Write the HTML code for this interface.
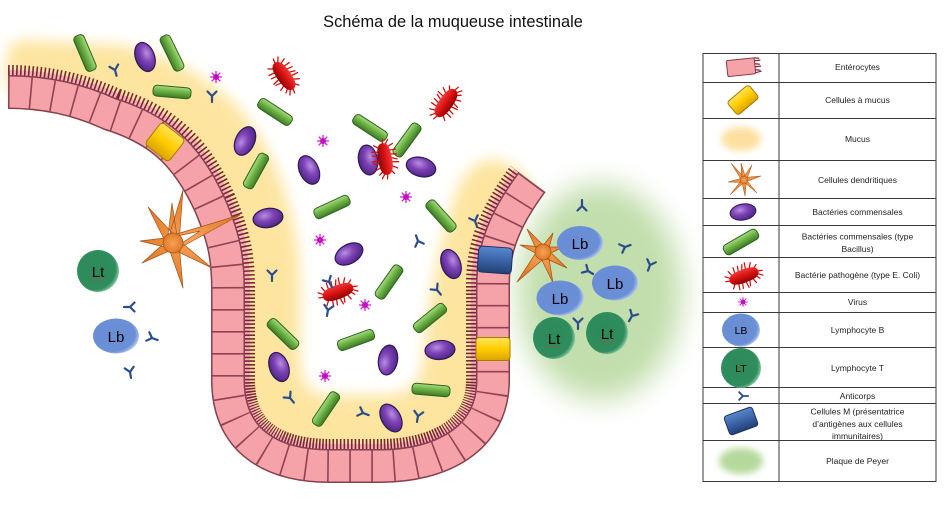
<!DOCTYPE html>
<html><head><meta charset="utf-8"><style>
html,body{margin:0;padding:0;background:#fff;}
svg{display:block;}
text{font-family:"Liberation Sans",sans-serif;}
</style></head><body>
<svg xmlns="http://www.w3.org/2000/svg" xmlns:xlink="http://www.w3.org/1999/xlink" width="945" height="516" viewBox="0 0 945 516">
<defs>
 <filter id="b7" x="-30%" y="-30%" width="160%" height="160%"><feGaussianBlur stdDeviation="7"/></filter>
 <filter id="b14" x="-50%" y="-50%" width="200%" height="200%"><feGaussianBlur stdDeviation="14"/></filter>
 <filter id="b3" x="-60%" y="-60%" width="220%" height="220%"><feGaussianBlur stdDeviation="3.5"/></filter>
 <radialGradient id="gpu" cx=".4" cy=".35" r=".7"><stop offset="0" stop-color="#b88ee0"/><stop offset=".45" stop-color="#7d42b5"/><stop offset="1" stop-color="#4b2380"/></radialGradient>
 <linearGradient id="ggr" x1="0" y1="0" x2="0" y2="1"><stop offset="0" stop-color="#a8dc84"/><stop offset=".4" stop-color="#74b84a"/><stop offset="1" stop-color="#3d7a25"/></linearGradient>
 <linearGradient id="gred" x1="0" y1="0" x2="0" y2="1"><stop offset="0" stop-color="#f03a3a"/><stop offset=".5" stop-color="#d81010"/><stop offset="1" stop-color="#8a0505"/></linearGradient>
 <linearGradient id="gyel" x1="0" y1="0" x2="0" y2="1"><stop offset="0" stop-color="#ffe45a"/><stop offset=".5" stop-color="#ffcc00"/><stop offset="1" stop-color="#d9a400"/></linearGradient>
 <linearGradient id="gblu" x1="0" y1="0" x2="0" y2="1"><stop offset="0" stop-color="#5b86cc"/><stop offset=".5" stop-color="#3b64a8"/><stop offset="1" stop-color="#233f73"/></linearGradient>
 <radialGradient id="glb" cx=".42" cy=".45" r=".6"><stop offset="0" stop-color="#6a8ed4"/><stop offset=".82" stop-color="#6b8fd6"/><stop offset="1" stop-color="#b8cdf2"/></radialGradient>
 <radialGradient id="glt" cx=".42" cy=".45" r=".6"><stop offset="0" stop-color="#2e8a5b"/><stop offset=".82" stop-color="#2f8c5c"/><stop offset="1" stop-color="#8fd0ab"/></radialGradient>
 <radialGradient id="gdc" cx=".5" cy=".5" r=".5"><stop offset="0" stop-color="#f7a35a"/><stop offset="1" stop-color="#e07a25"/></radialGradient>

 <path id="cl" d="M 8,92 C 45,92 80,100 110,114 C 155,128 185,150 210,205 C 225,240 228,260 228,290 L 228,380 C 228,440 270,466 330,466 L 380,466 C 440,466 493,440 493,380 L 493,285 C 493,255 500,225 532,182"/>
 <clipPath id="inner"><path d="M 8,92 C 45,92 80,100 110,114 C 155,128 185,150 210,205 C 225,240 228,260 228,290 L 228,380 C 228,440 270,466 330,466 L 380,466 C 440,466 493,440 493,380 L 493,285 C 493,255 500,225 532,182 L 560,150 L 560,-10 L -10,-10 L -10,92 Z"/></clipPath>

 <ellipse id="pu" rx="15" ry="9.5" fill="url(#gpu)" stroke="#2e1a55" stroke-width="1.2"/>
 <rect id="rod" x="-19" y="-5.5" width="38" height="11" rx="4" fill="url(#ggr)" stroke="#2f6520" stroke-width="1"/>
 <g id="ec">
  <path d="M-12,-5 l-2,-5 M-8,-6 l0,-6 M-4,-7 l1,-5 M0,-7 l2,-5 M4,-7 l1,-6 M8,-6 l3,-5 M12,-4 l4,-3 M-12,5 l-3,4 M-8,6 l-1,6 M-4,7 l-1,5 M0,7 l1,6 M4,7 l-1,5 M8,6 l2,5 M12,4 l3,4 M-16,0 l-4,-1 M16,0 l4,1 M-15,-3 l-4,-3 M15,3 l4,3" stroke="#d40f0f" stroke-width="1.3" stroke-linecap="round" fill="none"/>
  <path d="M-16,0 C-16,-6 -8,-7 0,-7 C8,-7 16,-6 16,0 C16,6 8,7 0,7 C-8,7 -16,6 -16,0 Z" fill="url(#gred)"/>
 </g>
 <g id="vir">
  <path d="M-6,0H6M0,-6V6M-4.3,-4.3L4.3,4.3M-4.3,4.3L4.3,-4.3" stroke="#d422d4" stroke-width="1.3"/>
  <circle r="3" fill="#c010c0"/>
 </g>
 <path id="ab" d="M0,6V0M0,0L-4.5,-4.5M0,0L4.5,-4.5" stroke="#2c4c8e" stroke-width="2.2" fill="none" stroke-linecap="round"/>
</defs>

<rect width="945" height="516" fill="#fff"/>

<!-- Title -->
<text x="453" y="27" font-size="16.4" text-anchor="middle" fill="#111">Schéma de la muqueuse intestinale</text>

<!-- Peyer patch -->
<ellipse cx="600" cy="292" rx="82" ry="108" fill="#c2deac" filter="url(#b14)"/>

<!-- Mucus -->
<path d="M 8,92 C 45,92 80,100 110,114 C 155,128 185,150 210,205 C 225,240 228,260 228,290 L 228,380 C 228,440 270,466 330,466 L 380,466 C 440,466 493,440 493,380 L 493,285 C 493,255 500,225 532,182 L 512,165 C 480,150 462,170 452,205 C 440,245 428,300 424,355 C 420,390 405,395 380,395 L 330,395 C 305,395 300,380 300,350 L 300,280 C 298,220 280,160 245,115 C 215,80 170,55 120,45 L 25,40 C 12,40 6,48 6,70 Z" fill="#fde5a0" filter="url(#b7)"/>

<!-- Microvilli -->
<g clip-path="url(#inner)">
 <use href="#cl" fill="none" stroke="#f3b3b6" stroke-width="44"/>
 <use href="#cl" fill="none" stroke="#7b2437" stroke-width="54" stroke-dasharray="1.6 2.1"/>
</g>

<!-- Enterocyte band -->
<use href="#cl" fill="none" stroke="#86404e" stroke-width="34"/>
<use href="#cl" fill="none" stroke="#f5a2a8" stroke-width="31"/>
<use href="#cl" fill="none" stroke="#8e4452" stroke-width="31" stroke-dasharray="1.6 20.4"/>

<!-- special cells -->
<rect x="-15" y="-14" width="30" height="28" rx="4" fill="url(#gyel)" stroke="#a87c00" stroke-width="1" transform="translate(165,142) rotate(38)"/>
<rect x="-17" y="-13" width="34" height="26" rx="4" fill="url(#gblu)" stroke="#1c3362" stroke-width="1" transform="translate(495,260) rotate(4)"/>
<rect x="-17" y="-11.5" width="34" height="23" rx="3" fill="url(#gyel)" stroke="#a87c00" stroke-width="1" transform="translate(493,349)"/>

<!-- Dendritic cells -->
<g fill="url(#gdc)" stroke="#a5531c" stroke-width=".7" stroke-linejoin="round">
 <path d="M167,243L183,190L179,243Z M177,238L148,207L168,247Z M167,243L172,203L178,243Z M173,237L140,241L173,249Z M176,248L142,263L170,238Z M167,243L183,288L179,243Z M170,248L212,268L176,238Z M176,250L240,215L170,236Z M173,237L200,231L173,249Z"/>
 <circle cx="173" cy="243" r="10"/>
 <path d="M547,256L517,282L539,248Z M540,256L567,268L546,248Z M543,247L563,247L543,257Z M538,252L553,233L548,252Z M547,249L527,229L539,255Z M543,247L520,245L543,257Z M538,252L553,283L548,252Z"/>
 <circle cx="543" cy="252" r="8"/>
</g>

<!-- Purple commensal bacteria -->
<use href="#pu" transform="translate(145,57) rotate(70)"/>
<use href="#pu" transform="translate(245,141) rotate(-65)"/>
<use href="#pu" transform="translate(268,218) rotate(-10)"/>
<use href="#pu" transform="translate(309,170) rotate(65)"/>
<use href="#pu" transform="translate(368,160) rotate(80)"/>
<use href="#pu" transform="translate(421,167) rotate(15)"/>
<use href="#pu" transform="translate(349,254) rotate(-30)"/>
<use href="#pu" transform="translate(451,264) rotate(70)"/>
<use href="#pu" transform="translate(279,367) rotate(70)"/>
<use href="#pu" transform="translate(388,360) rotate(-80)"/>
<use href="#pu" transform="translate(440,350) rotate(-5)"/>
<use href="#pu" transform="translate(391,418) rotate(60)"/>

<!-- Green rods -->
<use href="#rod" transform="translate(85,53) rotate(67)"/>
<use href="#rod" transform="translate(172,53) rotate(64)"/>
<use href="#rod" transform="translate(172,92) rotate(5)"/>
<use href="#rod" transform="translate(275,112) rotate(33)"/>
<use href="#rod" transform="translate(256,171) rotate(-61)"/>
<use href="#rod" transform="translate(370,128) rotate(33)"/>
<use href="#rod" transform="translate(407,140) rotate(-54)"/>
<use href="#rod" transform="translate(332,207) rotate(-25)"/>
<use href="#rod" transform="translate(441,216) rotate(48)"/>
<use href="#rod" transform="translate(389,282) rotate(-55)"/>
<use href="#rod" transform="translate(430,318) rotate(-39)"/>
<use href="#rod" transform="translate(283,334) rotate(44)"/>
<use href="#rod" transform="translate(356,340) rotate(-20)"/>
<use href="#rod" transform="translate(431,390) rotate(5)"/>
<use href="#rod" transform="translate(326,409) rotate(-56)"/>

<!-- Pathogens -->
<use href="#ec" transform="translate(284,76) rotate(55)"/>
<use href="#ec" transform="translate(446,103) rotate(-55)"/>
<use href="#ec" transform="translate(385,159) rotate(80)"/>
<use href="#ec" transform="translate(338,292) rotate(-20)"/>

<!-- Viruses -->
<use href="#vir" transform="translate(216,77)"/>
<use href="#vir" transform="translate(323,141)"/>
<use href="#vir" transform="translate(406,197)"/>
<use href="#vir" transform="translate(320,240)"/>
<use href="#vir" transform="translate(365,305)"/>
<use href="#vir" transform="translate(325,376)"/>

<!-- Antibodies -->
<use href="#ab" transform="translate(115,70) rotate(-15)"/>
<use href="#ab" transform="translate(212,96)"/>
<use href="#ab" transform="translate(272,275)"/>
<use href="#ab" transform="translate(418,241) rotate(160)"/>
<use href="#ab" transform="translate(475,221) rotate(-20)"/>
<use href="#ab" transform="translate(329,282) rotate(-30)"/>
<use href="#ab" transform="translate(328,310) rotate(10)"/>
<use href="#ab" transform="translate(437,290) rotate(-40)"/>
<use href="#ab" transform="translate(290,398) rotate(-40)"/>
<use href="#ab" transform="translate(363,413) rotate(-70)"/>
<use href="#ab" transform="translate(418,416) rotate(10)"/>
<use href="#ab" transform="translate(582,206) rotate(180)"/>
<use href="#ab" transform="translate(625,247) rotate(-110)"/>
<use href="#ab" transform="translate(650,265) rotate(20)"/>
<use href="#ab" transform="translate(588,271) rotate(-60)"/>
<use href="#ab" transform="translate(578,323)"/>
<use href="#ab" transform="translate(632,316) rotate(30)"/>
<use href="#ab" transform="translate(130,307) rotate(90)"/>
<use href="#ab" transform="translate(152,338) rotate(-70)"/>
<use href="#ab" transform="translate(130,372) rotate(-10)"/>

<!-- Lymphocytes -->
<g font-size="15" text-anchor="middle" fill="#000">
 <circle cx="98" cy="271" r="21" fill="url(#glt)"/>
 <text x="98" y="277">Lt</text>
 <path d="M90,280 h16" stroke="#d04040" stroke-width=".8" stroke-dasharray="1.5 1"/>
 <ellipse cx="116" cy="336" rx="23" ry="17.5" fill="url(#glb)"/>
 <text x="116" y="342">Lb</text>
 <ellipse cx="580" cy="243" rx="23" ry="17" fill="url(#glb)"/>
 <text x="580" y="249">Lb</text>
 <ellipse cx="615" cy="283" rx="23" ry="17.5" fill="url(#glb)"/>
 <text x="615" y="289">Lb</text>
 <ellipse cx="560" cy="298" rx="23.5" ry="17.5" fill="url(#glb)"/>
 <text x="560" y="304">Lb</text>
 <circle cx="554" cy="338" r="21" fill="url(#glt)"/>
 <text x="554" y="344">Lt</text>
 <path d="M546,347 h16" stroke="#d04040" stroke-width=".8" stroke-dasharray="1.5 1"/>
 <circle cx="607" cy="333" r="21" fill="url(#glt)"/>
 <text x="607" y="339">Lt</text>
 <path d="M599,342 h16" stroke="#d04040" stroke-width=".8" stroke-dasharray="1.5 1"/>
</g>

<!-- Legend table -->
<g stroke="#3a3a3a" stroke-width="1" fill="none">
 <rect x="703" y="53.5" width="233" height="428"/>
 <line x1="779" y1="53.5" x2="779" y2="481.5"/>
 <path d="M703,82.5H936M703,118.5H936M703,160.5H936M703,198.5H936M703,225.5H936M703,257.5H936M703,292.5H936M703,312.5H936M703,347.5H936M703,387.5H936M703,403.5H936M703,440.5H936"/>
</g>

<!-- Legend icons -->
<g transform="translate(743,67) rotate(-6)">
 <rect x="-16" y="-8" width="28" height="16" rx="1.5" fill="#f5a2a8" stroke="#86404e"/>
 <path d="M12,-8 l5,1 M12,-5 l6,0 M12,-2 l5,1 M12,1 l6,0 M12,4 l5,1 M12,7 l6,-1" stroke="#7b2437" stroke-width="1.2"/>
</g>
<rect x="-14" y="-8.5" width="28" height="17" rx="3" fill="url(#gyel)" stroke="#a87c00" transform="translate(743,100) rotate(-40)"/>
<ellipse cx="741" cy="139" rx="20" ry="12" fill="#fde0a0" filter="url(#b3)"/>
<g fill="url(#gdc)" stroke="#a5531c" stroke-width=".5">
 <path d="M741.5,180L731,163L746.5,180Z M741.5,180L752,165L746.5,180Z M744,177.5L761,176L744,182.5Z M741.5,180L757,193L746.5,180Z M741.5,180L745,196L746.5,180Z M741.5,180L730,195L746.5,180Z M744,177.5L728,182L744,182.5Z M741.5,180L741,163L746.5,180Z"/>
 <circle cx="744" cy="180" r="4"/>
</g>
<ellipse rx="13" ry="8" fill="url(#gpu)" stroke="#2e1a55" transform="translate(743,212) rotate(-10)"/>
<use href="#rod" transform="translate(741,242) rotate(-30)"/>
<use href="#ec" transform="translate(744,276) rotate(-20) scale(0.95)"/>
<use href="#vir" transform="translate(743,302) scale(0.8)"/>
<ellipse cx="741" cy="330" rx="19" ry="16.5" fill="url(#glb)"/>
<text x="741" y="334" font-size="10.5" text-anchor="middle" fill="#000">LB</text>
<circle cx="741" cy="368" r="20" fill="url(#glt)"/>
<text x="741" y="372" font-size="10.5" text-anchor="middle" fill="#000">LT</text>
<use href="#ab" transform="translate(743,396) rotate(-90) scale(0.85)"/>
<rect x="-15" y="-10" width="30" height="20" rx="3" fill="url(#gblu)" stroke="#1c3362" transform="translate(741,421) rotate(-20)"/>
<ellipse cx="741" cy="461" rx="22" ry="13" fill="#b5d99c" filter="url(#b3)"/>

<!-- Legend text -->
<g font-size="8.5" text-anchor="middle" fill="#222">
 <text x="857.5" y="70">Entérocytes</text>
 <text x="857.5" y="103">Cellules à mucus</text>
 <text x="857.5" y="142">Mucus</text>
 <text x="857.5" y="183">Cellules dendritiques</text>
 <text x="857.5" y="215">Bactéries commensales</text>
 <text x="857.5" y="239.5">Bactéries commensales (type</text>
 <text x="857.5" y="252">Bacillus)</text>
 <text x="857.5" y="278">Bactérie pathogène (type E. Coli)</text>
 <text x="857.5" y="305">Virus</text>
 <text x="857.5" y="333">Lymphocyte B</text>
 <text x="857.5" y="371">Lymphocyte T</text>
 <text x="857.5" y="399">Anticorps</text>
 <text x="857.5" y="414.5">Cellules M (présentatrice</text>
 <text x="857.5" y="427">d’antigènes aux cellules</text>
 <text x="857.5" y="439">immunitaires)</text>
 <text x="857.5" y="464">Plaque de Peyer</text>
</g>
</svg>
</body></html>
